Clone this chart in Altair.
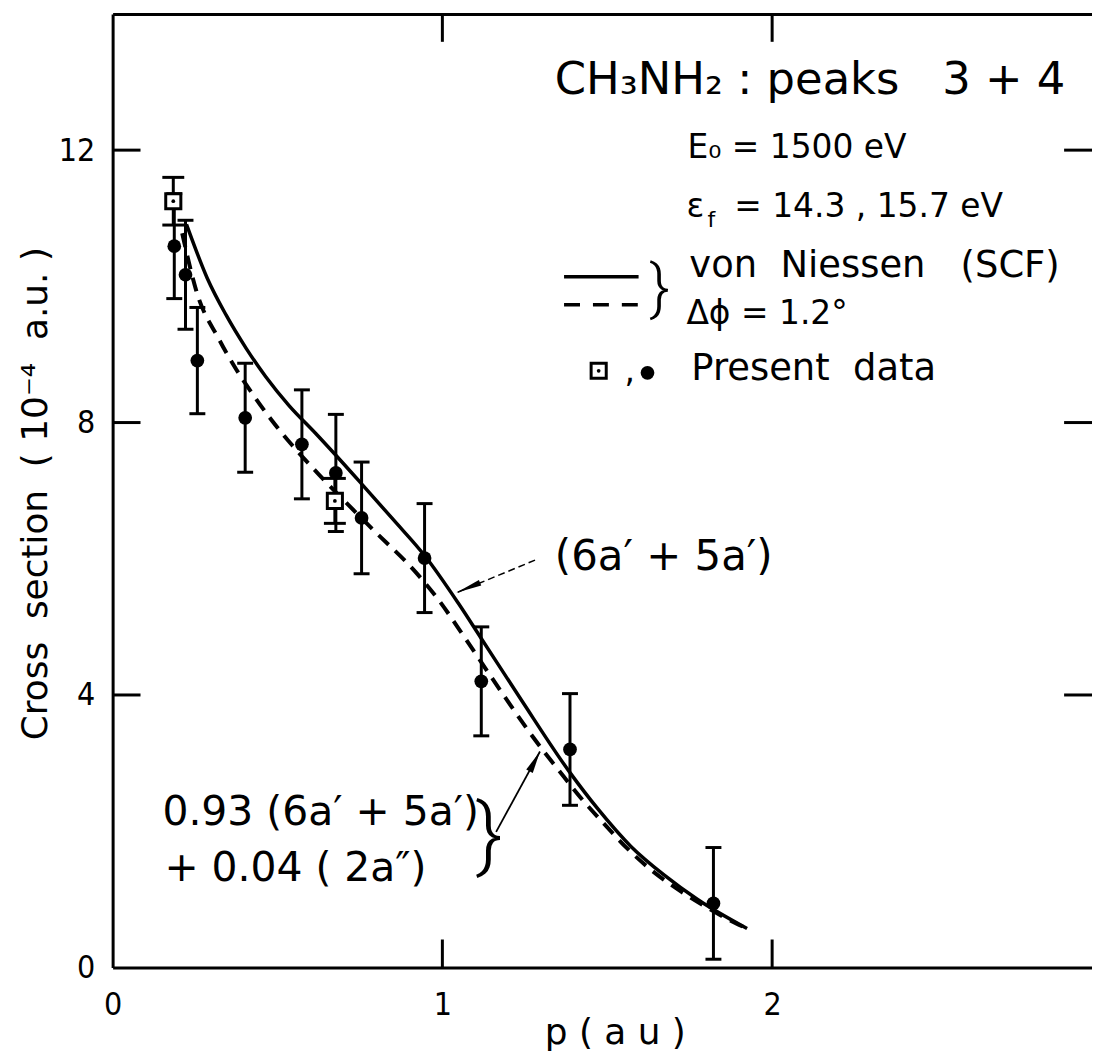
import altair as alt
import pandas as pd

# ---------------- data ----------------
circle_p   = [0.187, 0.221, 0.257, 0.402, 0.574, 0.677, 0.755, 0.946, 1.118, 1.387, 1.822]
circle_cs  = [10.59, 10.17, 8.91, 8.07, 7.68, 7.26, 6.60, 6.01, 4.20, 3.20, 0.94]
circle_err = [0.77, 0.80, 0.78, 0.80, 0.80, 0.86, 0.82, 0.80, 0.80, 0.82, 0.82]

square_p   = [0.184, 0.674]
square_cs  = [11.25, 6.85]
square_err = [0.35, 0.33]

scf_p  = [0.224, 0.287, 0.344, 0.405, 0.465, 0.535, 0.616, 0.677, 0.755, 0.852,
          0.949, 1.048, 1.118, 1.239, 1.387, 1.471, 1.571, 1.674, 1.773, 1.924]
scf_cs = [10.91, 10.12, 9.58, 9.09, 8.67, 8.25, 7.84, 7.52, 7.10, 6.57,
          6.03, 5.35, 4.83, 3.93, 2.86, 2.33, 1.78, 1.35, 1.00, 0.57]

conv_p  = [0.211, 0.254, 0.323, 0.375, 0.423, 0.483, 0.544, 0.625, 0.785, 0.927,
           0.988, 1.057, 1.139, 1.208, 1.260, 1.360, 1.432, 1.492, 1.562, 1.631,
           1.722, 1.795, 1.885, 1.924]
conv_cs = [10.78, 9.93, 9.22, 8.78, 8.43, 8.03, 7.67, 7.24, 6.45, 5.76,
           5.40, 4.92, 4.33, 3.84, 3.48, 2.85, 2.42, 2.10, 1.74, 1.44,
           1.12, 0.90, 0.66, 0.57]

x_tick_labels = [0, 1, 2]
y_tick_labels = [0, 4, 8, 12]
x_inner_ticks = [1, 2]
y_inner_ticks = [4, 8, 12]

# ---------------- layout / style ----------------
W, H = 983, 957
X_MAX, Y_MAX = 2.97, 14.0
TICK_PX = 28
SANS = "DejaVu Sans"
NARROW = "Liberation Sans Narrow, DejaVu Sans Condensed, DejaVu Sans"
BRACE = "Roboto"
NB = "\u00a0"
xs = alt.Scale(domain=[0, X_MAX], nice=False, zero=False)
ys = alt.Scale(domain=[0, Y_MAX], nice=False, zero=False)
tx = TICK_PX * X_MAX / W   # tick length in data units (x)
ty = TICK_PX * Y_MAX / H   # tick length in data units (y)


def X(f="x", axis=None):
    return alt.X(f + ":Q", scale=xs, axis=axis)


def Y(f="y", axis=None):
    return alt.Y(f + ":Q", scale=ys, axis=axis)


bottom_axis = alt.Axis(orient="bottom", values=x_tick_labels, format="d", ticks=False, tickSize=0,
                       domain=True, domainColor="black", domainWidth=3, grid=False,
                       labelFont=NARROW, labelFontSize=32, labelColor="black", labelPadding=22,
                       labelFlush=False, labelOverlap=False,
                       title="p ( a u )", titleFont=SANS, titleFontSize=36, titleFontWeight="normal",
                       titleColor="black", titleX=504, titleY=76, titleBaseline="alphabetic")
top_axis = alt.Axis(orient="top", ticks=False, labels=False, domain=True, domainColor="black",
                    domainWidth=3, grid=False, title="")
left_axis = alt.Axis(orient="left", values=y_tick_labels, format="d", ticks=False, tickSize=0,
                     domain=True, domainColor="black", domainWidth=3, grid=False,
                     labelFont=NARROW, labelFontSize=32, labelColor="black", labelPadding=18,
                     title=f"Cross{NB}{NB}section{NB}{NB}({NB}10⁻⁴{NB}{NB}a.u.{NB})",
                     titleFont=SANS, titleFontSize=36,
                     titleFontWeight="normal", titleColor="black", titleAngle=270,
                     titleX=-77, titleY=481, titleBaseline="middle", titleAlign="center")

# inner tick marks (drawn through the scales)
xin = pd.DataFrame({"t": x_inner_ticks})
xin["lo"] = 0.0
xin["lo2"] = ty
xin["hi"] = Y_MAX
xin["hi2"] = Y_MAX - ty
yin = pd.DataFrame({"t": y_inner_ticks})
yin["r"] = X_MAX
yin["r2"] = X_MAX - tx
yin["l"] = 0.0
yin["l2"] = tx
rule_style = dict(color="black", strokeWidth=3)

bottom = alt.Chart(xin).mark_rule(**rule_style).encode(
    x=alt.X("t:Q", scale=xs, axis=bottom_axis), y=Y("lo"), y2="lo2:Q")
top = alt.Chart(xin).mark_rule(**rule_style).encode(
    x=alt.X("t:Q", scale=xs, axis=top_axis), y=Y("hi"), y2="hi2:Q")
left = alt.Chart(yin).mark_rule(**rule_style).encode(
    y=alt.Y("t:Q", scale=ys, axis=left_axis), x=X("l"), x2="l2:Q")
right = alt.Chart(yin).mark_rule(**rule_style).encode(
    y=alt.Y("t:Q", scale=ys, axis=None), x=X("r"), x2="r2:Q")

# curves
scf = pd.DataFrame({"x": scf_p, "y": scf_cs})
conv = pd.DataFrame({"x": conv_p, "y": conv_cs})
solid = alt.Chart(scf).mark_line(color="black", strokeWidth=3.5, interpolate="monotone").encode(x=X(), y=Y())
dashed = alt.Chart(conv).mark_line(color="black", strokeWidth=4, strokeDash=[14, 9],
                                   interpolate="monotone").encode(x=X(), y=Y())

# data points
circ = pd.DataFrame({"x": circle_p, "y": circle_cs, "e": circle_err})
circ["lo"] = circ["y"] - circ["e"]
circ["hi"] = circ["y"] + circ["e"]
sq = pd.DataFrame({"x": square_p, "y": square_cs, "e": square_err})
sq["lo"] = sq["y"] - sq["e"]
sq["hi"] = sq["y"] + sq["e"]


def errbars(df, capw):
    bars = alt.Chart(df).mark_rule(color="black", strokeWidth=3).encode(
        x=X(), y=Y("lo"), y2="hi:Q")
    caps_df = pd.concat([df[["x", "lo"]].rename(columns={"lo": "c"}),
                         df[["x", "hi"]].rename(columns={"hi": "c"})])
    caps = alt.Chart(caps_df).mark_tick(color="black", orient="horizontal", size=capw,
                                        thickness=3, opacity=1).encode(x=X(), y=Y("c"))
    return bars, caps


cb, cc = errbars(circ, 16)
sb, sc = errbars(sq, 22)

circles = alt.Chart(circ).mark_point(shape="circle", filled=True, size=190, color="black",
                                     opacity=1).encode(x=X(), y=Y())
squares = alt.Chart(sq).mark_point(shape="square", size=230, fill="white", stroke="black",
                                   strokeWidth=3, opacity=1, fillOpacity=1).encode(x=X(), y=Y())
dots = alt.Chart(sq).mark_point(shape="circle", filled=True, size=14, color="black",
                                opacity=1).encode(x=X(), y=Y())


def text(t, x, y, size, font=SANS, align="left", baseline="alphabetic", weight="normal"):
    df = pd.DataFrame({"x": [x], "y": [y], "t": [t]})
    return alt.Chart(df).mark_text(align=align, baseline=baseline, fontSize=size, font=font,
                                   fontWeight=weight, color="black").encode(
        x=X(), y=Y(), text="t:N")


# legend block
leg_solid = pd.DataFrame({"x": [1.369], "x2": [1.595], "y": [10.14]})
leg_dash = pd.DataFrame({"x": [1.369], "x2": [1.595], "y": [9.73]})
leg_l1 = alt.Chart(leg_solid).mark_rule(color="black", strokeWidth=3.5).encode(x=X(), x2="x2:Q", y=Y())
leg_l2 = alt.Chart(leg_dash).mark_rule(color="black", strokeWidth=3.5, strokeDash=[16, 13]).encode(
    x=X(), x2="x2:Q", y=Y())
leg_pts_sq = pd.DataFrame({"x": [1.474], "y": [8.76]})
leg_pts_c = pd.DataFrame({"x": [1.622], "y": [8.73]})
leg_sq = alt.Chart(leg_pts_sq).mark_point(shape="square", size=230, fill="white", stroke="black",
                                          strokeWidth=3, opacity=1, fillOpacity=1).encode(x=X(), y=Y())
leg_dot = alt.Chart(leg_pts_sq).mark_point(shape="circle", filled=True, size=14, color="black",
                                           opacity=1).encode(x=X(), y=Y())
leg_c = alt.Chart(leg_pts_c).mark_point(shape="circle", filled=True, size=190, color="black",
                                        opacity=1).encode(x=X(), y=Y())

# arrows
a1 = pd.DataFrame({"x": [1.281], "y": [5.98], "x2": [1.042], "y2": [5.50]})
a2 = pd.DataFrame({"x": [1.163], "y": [1.99], "x2": [1.296], "y2": [3.17]})
arrow1 = alt.Chart(a1).mark_rule(color="black", strokeWidth=1.5, strokeDash=[7, 4]).encode(
    x=X(), y=Y(), x2="x2:Q", y2="y2:Q")
arrow2 = alt.Chart(a2).mark_rule(color="black", strokeWidth=1.8).encode(
    x=X(), y=Y(), x2="x2:Q", y2="y2:Q")
head1 = alt.Chart(a1).mark_point(shape="M0,0L0.23,2L-0.23,2Z", filled=True, size=676, angle=247,
                                 color="black", opacity=1).encode(x=X("x2"), y=Y("y2"))
head2 = alt.Chart(a2).mark_point(shape="M0,0L0.33,2L-0.33,2Z", filled=True, size=500, angle=28,
                                 color="black", opacity=1).encode(x=X("x2"), y=Y("y2"))

texts = [
    text(f"CH₃NH₂ : peaks{NB}{NB}{NB}3 + 4", 1.341, 12.83, 45),
    text("E₀ = 1500 eV", 1.743, 11.89, 33),
    text("ε", 1.740, 11.02, 33),
    text("f", 1.804, 10.87, 22),
    text(f"= 14.3{NB},{NB}15.7 eV", 1.885, 11.02, 33),
    text(f"von{NB}{NB}Niessen{NB}{NB}{NB}(SCF)", 1.749, 10.14, 37),
    text("Δϕ = 1.2°", 1.740, 9.45, 33),
    text(",", 1.552, 8.59, 33),
    text(f"Present{NB}{NB}data", 1.755, 8.62, 37),
    text("(6a′ + 5a′)", 1.341, 5.84, 42),
    text("0.93 (6a′ + 5a′)", 0.151, 2.09, 41),
    text("+ 0.04 ( 2a″)", 0.157, 1.27, 41),
    text("}", 1.659, 9.96, 62, font=BRACE, align="center", baseline="middle", weight=300),
    text("}", 1.142, 1.92, 82, font=BRACE, align="center", baseline="middle", weight=300),
]

chart = alt.layer(
    bottom, top, left, right,
    solid, dashed,
    cb, cc, sb, sc,
    circles, squares, dots,
    leg_l1, leg_l2, leg_sq, leg_dot, leg_c,
    arrow1, arrow2, head1, head2,
    *texts,
).resolve_axis(x="independent", y="independent").properties(
    width=W, height=H,
    autosize=alt.AutoSizeParams(type="none"),
    padding={"left": 105, "top": 4, "right": 0, "bottom": 92},
    background="white",
).configure_view(stroke=None)

chart.save("out.html", embed_options={"renderer": "svg", "actions": False})
